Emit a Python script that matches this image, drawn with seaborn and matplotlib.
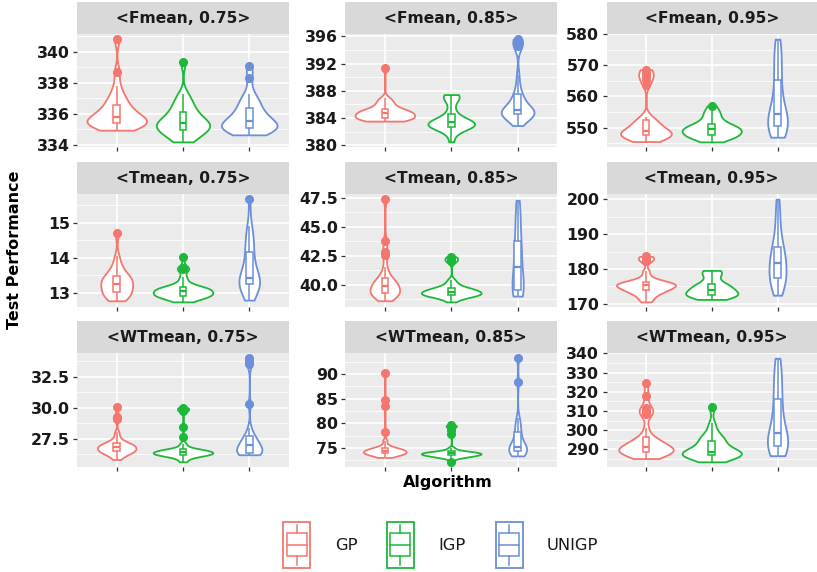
import numpy as np
import pandas as pd
import matplotlib
matplotlib.use("Agg")
import matplotlib.pyplot as plt
from matplotlib.ticker import MultipleLocator, FormatStrFormatter
from matplotlib.patches import Rectangle
import seaborn as sns

plt.rcParams["font.family"] = ["DejaVu Sans"]

algorithms = ["GP", "IGP", "UNIGP"]
colors = ["#F4766E", "#1DB83A", "#6B8FD8"]

# ---- test performance of each run, per scenario and algorithm ----
fmean_075_gp = [334.95, 335.1, 335.2, 335.25, 335.3, 335.35, 335.4, 335.45, 335.5, 335.55, 335.6, 335.7, 335.79,
                335.9, 336.0, 336.1, 336.25, 336.4, 336.58, 336.8, 337.0, 337.3, 337.8, 338.7, 340.8]
fmean_075_igp = [334.2, 334.35, 334.5, 334.65, 334.8, 334.9, 334.99, 335.1, 335.15, 335.2, 335.25, 335.3, 335.42,
                 335.5, 335.6, 335.7, 335.8, 335.95, 336.15, 336.3, 336.5, 336.7, 337.0, 337.3, 339.35]
fmean_075_unigp = [334.65, 334.8, 334.9, 334.95, 335.0, 335.05, 335.1, 335.15, 335.2, 335.3, 335.35, 335.45, 335.53,
                   335.6, 335.75, 335.9, 336.0, 336.2, 336.37, 336.55, 336.8, 337.0, 337.3, 338.3, 339.1]

fmean_085_gp = [383.55, 383.65, 383.75, 383.82, 383.88, 383.93, 383.98, 384.15, 384.28, 384.4, 384.5, 384.6, 384.68,
                384.78, 384.88, 384.98, 385.08, 385.18, 385.3, 385.55, 385.85, 386.2, 386.55, 386.9, 391.4]
fmean_085_igp = [380.5, 381.6, 382.2, 382.5, 382.62, 382.7, 382.75, 382.85, 382.95, 383.05, 383.15, 383.25, 383.4,
                 383.5, 383.6, 383.7, 383.85, 384.1, 384.65, 385.3, 386.3, 386.9, 387.2, 387.3, 387.45]
fmean_085_unigp = [382.9, 383.6, 384.05, 384.25, 384.4, 384.5, 384.55, 384.6, 384.67, 384.73, 384.8, 384.86, 384.92,
                   385.0, 385.15, 385.35, 385.6, 385.95, 386.35, 386.8, 387.2, 387.6, 388.6, 390.3, 394.6, 394.9,
                   395.1, 395.3, 395.6]

fmean_095_gp = [545.5, 546.0, 546.4, 546.7, 547.0, 547.2, 547.4, 547.6, 547.8, 548.0, 548.2, 548.4, 548.6, 548.8,
                549.0, 549.5, 550.0, 550.6, 551.2, 551.7, 552.2, 552.4, 553.5, 563.8, 565.2, 566.3, 567.2,
                568.0, 568.6]
fmean_095_igp = [545.4, 546.0, 546.5, 546.9, 547.2, 547.4, 547.6, 547.9, 548.3, 548.6, 548.9, 549.2, 549.4,
                 549.6, 549.8, 550.1, 550.4, 550.8, 551.2, 551.8, 552.6, 553.6, 554.6, 555.4, 557.0]
fmean_095_unigp = [546.9, 547.8, 548.5, 549.2, 549.7, 550.2, 550.6, 551.2, 551.8, 552.4, 553.0, 553.6, 554.2,
                   555.5, 557.0, 558.8, 560.6, 562.9, 565.2, 567.5, 569.8, 572.0, 574.2, 576.3, 578.4]

tmean_075_gp = [12.78, 12.82, 12.87, 12.92, 12.96, 12.99, 13.02, 13.07, 13.12, 13.16, 13.2, 13.24, 13.27,
                13.31, 13.35, 13.39, 13.42, 13.45, 13.48, 13.55, 13.62, 13.72, 13.84, 14.05, 14.7]
tmean_075_igp = [12.75, 12.8, 12.84, 12.87, 12.9, 12.92, 12.93, 12.95, 12.97, 12.99, 13.01, 13.03, 13.06,
                 13.08, 13.1, 13.12, 13.14, 13.15, 13.17, 13.22, 13.3, 13.45, 13.67, 13.72, 14.03]
tmean_075_unigp = [12.8, 12.95, 13.05, 13.12, 13.18, 13.22, 13.25, 13.28, 13.31, 13.34, 13.37, 13.4, 13.44,
                   13.52, 13.62, 13.75, 13.9, 14.03, 14.17, 14.3, 14.45, 14.6, 14.75, 14.9, 15.67]

tmean_085_gp = [38.6, 38.8, 38.95, 39.05, 39.15, 39.2, 39.25, 39.35, 39.45, 39.55, 39.65, 39.75, 39.9,
                40.0, 40.1, 40.2, 40.3, 40.45, 40.56, 41.0, 41.5, 42.6, 42.8, 43.8, 47.4]
tmean_085_igp = [38.5, 38.8, 38.9, 39.0, 39.05, 39.08, 39.1, 39.15, 39.2, 39.25, 39.3, 39.35, 39.39,
                 39.45, 39.5, 39.55, 39.6, 39.67, 39.74, 39.9, 40.1, 40.4, 42.0, 42.2, 42.4]
tmean_085_unigp = [39.0, 39.1, 39.2, 39.3, 39.4, 39.5, 39.55, 39.8, 40.1, 40.5, 40.8, 41.2, 41.5,
                   41.9, 42.3, 42.7, 43.1, 43.5, 43.8, 44.4, 45.0, 45.6, 46.2, 46.8, 47.3]

tmean_095_gp = [170.6, 171.5, 172.3, 172.9, 173.3, 173.6, 173.9, 174.2, 174.5, 174.7, 174.9, 175.1, 175.3,
                175.5, 175.7, 175.85, 176.0, 176.15, 176.3, 176.8, 177.6, 179.3, 182.4, 183.0, 183.6]
tmean_095_igp = [171.3, 171.7, 172.0, 172.2, 172.4, 172.5, 172.6, 172.8, 173.0, 173.2, 173.5, 173.8, 174.1,
                 174.4, 174.7, 175.0, 175.3, 175.5, 175.7, 176.5, 177.5, 178.6, 179.1, 179.4, 179.6]
tmean_095_unigp = [172.5, 173.5, 174.5, 175.4, 176.2, 176.8, 177.3, 178.0, 178.8, 179.6, 180.3, 181.0, 181.7,
                   182.4, 183.1, 183.9, 184.8, 185.6, 186.4, 187.8, 189.5, 191.6, 194.0, 197.0, 200.0]

wtmean_075_gp = [25.82, 26.05, 26.2, 26.3, 26.38, 26.43, 26.48, 26.53, 26.58, 26.63, 26.7, 26.76, 26.83,
                 26.88, 26.93, 26.98, 27.03, 27.09, 27.15, 27.3, 27.55, 28.0, 29.1, 29.25, 30.05]
wtmean_075_igp = [25.63, 25.85, 26.0, 26.08, 26.13, 26.17, 26.2, 26.22, 26.25, 26.28, 26.31, 26.34, 26.37,
                  26.4, 26.43, 26.46, 26.5, 26.53, 26.56, 26.6, 26.63, 26.67, 26.85, 27.1, 27.63, 28.43,
                  29.7, 29.9, 30.0]
wtmean_075_unigp = [26.2, 26.25, 26.28, 26.31, 26.33, 26.35, 26.37, 26.45, 26.55, 26.65, 26.75, 26.85, 26.96,
                    27.05, 27.15, 27.28, 27.4, 27.55, 27.68, 27.85, 28.4, 30.3, 33.5, 33.8, 34.0]

wtmean_085_gp = [73.1, 73.4, 73.55, 73.65, 73.75, 73.82, 73.9, 74.0, 74.1, 74.2, 74.28, 74.36, 74.45,
                 74.55, 74.65, 74.75, 74.85, 74.95, 75.1, 75.5, 76.5, 78.3, 83.6, 84.8, 90.1]
wtmean_085_igp = [72.2, 72.9, 73.1, 73.25, 73.35, 73.45, 73.5, 73.58, 73.65, 73.72, 73.78, 73.84, 73.9,
                  73.96, 74.02, 74.1, 74.17, 74.24, 74.3, 74.5, 75.0, 77.8, 78.6, 79.3, 79.6]
wtmean_085_unigp = [73.4, 73.8, 74.0, 74.15, 74.25, 74.35, 74.45, 74.55, 74.65, 74.75, 74.9, 75.05, 75.2,
                    75.5, 75.9, 76.4, 77.0, 77.6, 78.2, 78.9, 79.6, 80.3, 81.0, 88.4, 93.2]

wtmean_095_gp = [285.2, 286.0, 286.7, 287.3, 287.8, 288.2, 288.5, 288.8, 289.2, 289.6, 290.0, 290.3, 290.6,
                 290.9, 291.1, 291.7, 292.4, 293.2, 294.0, 294.9, 295.7, 296.4, 301.0, 308.2, 309.3, 310.5,
                 311.8, 317.8, 324.6]
wtmean_095_igp = [283.5, 284.6, 285.4, 285.9, 286.4, 286.8, 287.2, 287.5, 287.8, 288.0, 288.2, 288.5, 288.8,
                  289.5, 290.3, 291.2, 292.3, 293.4, 294.4, 295.5, 296.4, 297.2, 300.0, 303.5, 311.9]
wtmean_095_unigp = [286.7, 288.0, 289.2, 290.2, 290.9, 291.4, 291.9, 292.9, 294.0, 295.2, 296.4, 297.5, 298.6,
                    301.0, 303.8, 306.8, 309.9, 313.0, 316.1, 319.5, 323.0, 326.6, 330.2, 333.9, 337.5]

panel_titles = ["<Fmean, 0.75>", "<Fmean, 0.85>", "<Fmean, 0.95>",
                "<Tmean, 0.75>", "<Tmean, 0.85>", "<Tmean, 0.95>",
                "<WTmean, 0.75>", "<WTmean, 0.85>", "<WTmean, 0.95>"]
panel_data = [
    (fmean_075_gp, fmean_075_igp, fmean_075_unigp),
    (fmean_085_gp, fmean_085_igp, fmean_085_unigp),
    (fmean_095_gp, fmean_095_igp, fmean_095_unigp),
    (tmean_075_gp, tmean_075_igp, tmean_075_unigp),
    (tmean_085_gp, tmean_085_igp, tmean_085_unigp),
    (tmean_095_gp, tmean_095_igp, tmean_095_unigp),
    (wtmean_075_gp, wtmean_075_igp, wtmean_075_unigp),
    (wtmean_085_gp, wtmean_085_igp, wtmean_085_unigp),
    (wtmean_095_gp, wtmean_095_igp, wtmean_095_unigp),
]
tick_steps = [2, 4, 10, 1, 2.5, 10, 2.5, 5, 10]

palette = dict(zip(algorithms, colors))

W, H = 817, 572
fig = plt.figure(figsize=(W / 100, H / 100), dpi=100)


def box_px(x0, y0, x1, y1):
    return [x0 / W, 1 - y1 / H, (x1 - x0) / W, (y1 - y0) / H]


col_px = [(77, 289), (345, 557.5), (606.5, 817)]
row_panel_px = [(34, 147), (194, 307), (353, 467)]
row_strip_px = [(2, 34), (162, 194), (321, 353)]


def nrd0(kde):
    # Silverman's rule of thumb, expressed as a factor of the sample sd
    x = np.asarray(kde.dataset).ravel()
    sd = x.std(ddof=1)
    q25, q75 = np.percentile(x, [25, 75])
    spread = min(sd, (q75 - q25) / 1.34)
    if spread <= 0:
        spread = sd
    return 0.9 * spread * len(x) ** -0.2 / sd


tick_color = "#333333"
label_color = "#1A1A1A"

for i, (title, groups, step) in enumerate(zip(panel_titles, panel_data, tick_steps)):
    r, c = divmod(i, 3)
    x0, x1 = col_px[c]
    y0, y1 = row_panel_px[r]
    ax = fig.add_axes(box_px(x0, y0, x1, y1))
    df = pd.DataFrame({
        "Algorithm": np.repeat(algorithms, [len(g) for g in groups]),
        "value": np.concatenate([np.asarray(g, float) for g in groups]),
    })

    n_coll = len(ax.collections)
    sns.violinplot(data=df, x="Algorithm", y="value", hue="Algorithm", order=algorithms,
                   hue_order=algorithms, palette=palette, dodge=False, inner=None, cut=0,
                   width=0.9, density_norm="area", common_norm=True, bw_method=nrd0,
                   linewidth=1.3, legend=False, ax=ax)
    for coll, col in zip(ax.collections[n_coll:], colors):
        coll.set_facecolor("white")
        coll.set_edgecolor(col)
        coll.set_linewidth(1.3)

    for alg, col in zip(algorithms, colors):
        sub = df[df["Algorithm"] == alg]
        n_lines, n_patches = len(ax.lines), len(ax.patches)
        sns.boxplot(data=sub, x="Algorithm", y="value", order=algorithms, color="white",
                    linecolor=col, width=0.1, linewidth=1.1, showcaps=False, fliersize=5.5,
                    flierprops=dict(marker="o"), medianprops=dict(linewidth=1.6), ax=ax)
        for ln in ax.lines[n_lines:]:
            ln.set_color(col)
            if ln.get_marker() not in (None, "None", ""):
                ln.set_markerfacecolor(col)
                ln.set_markeredgecolor(col)
                ln.set_markersize(5.5)
        for p in ax.patches[n_patches:]:
            p.set_facecolor("white")
            p.set_edgecolor(col)

    ax.set_xlim(-0.6, 2.6)
    ax.margins(y=0.05)
    ax.autoscale_view(scalex=False)
    ax.set_facecolor("#EBEBEB")
    for s in ax.spines.values():
        s.set_visible(False)
    ax.set_axisbelow(True)
    ax.yaxis.set_major_locator(MultipleLocator(step))
    ax.yaxis.set_minor_locator(MultipleLocator(step / 2))
    ax.yaxis.set_major_formatter(FormatStrFormatter("%.1f" if step == 2.5 else "%d"))
    ax.set_xticks([0, 1, 2])
    ax.set_xticklabels([])
    ax.grid(which="major", color="white", linewidth=1.2)
    ax.grid(which="minor", axis="y", color="white", linewidth=0.6)
    ax.tick_params(axis="both", which="major", length=3.2, width=0.9, color=tick_color,
                   labelsize=11.3, labelcolor=label_color, pad=2)
    ax.tick_params(axis="both", which="minor", length=0)
    for lab in ax.get_yticklabels():
        lab.set_fontweight("bold")
    ax.set_xlabel("")
    ax.set_ylabel("")

    sy0, sy1 = row_strip_px[r]
    sax = fig.add_axes(box_px(x0, sy0, x1, sy1))
    sax.set_facecolor("#D9D9D9")
    sax.set_xticks([])
    sax.set_yticks([])
    for s in sax.spines.values():
        s.set_visible(False)
    sax.text(0.5, 0.48, title, ha="center", va="center", fontsize=11.2, fontweight="bold",
             color=label_color, transform=sax.transAxes)

fig.text(15 / W, 1 - 250 / H, "Test Performance", rotation=90, ha="center", va="center",
         fontsize=11.5, fontweight="bold", color="black")
fig.text(448 / W, 1 - 483 / H, "Algorithm", ha="center", va="center",
         fontsize=11.5, fontweight="bold", color="black")

# legend: boxplot key glyphs drawn in a pixel-space overlay
lax = fig.add_axes([0, 0, 1, 1])
lax.set_xlim(0, W)
lax.set_ylim(H, 0)
lax.axis("off")
lax.patch.set_alpha(0)
key_x = [283.5, 387, 496]
label_x = [335, 438.5, 547]
for kx, lx, alg, col in zip(key_x, label_x, algorithms, colors):
    kw, cx = 27, kx + 13.5
    lax.add_patch(Rectangle((kx, 522), kw, 46, facecolor="white", edgecolor=col, linewidth=1.3))
    lax.add_patch(Rectangle((kx + 3.5, 533), kw - 7, 23, facecolor="white", edgecolor=col, linewidth=1.1))
    lax.plot([kx + 3.5, kx + kw - 3.5], [544.5, 544.5], color=col, linewidth=1.1)
    lax.plot([cx, cx], [525, 533], color=col, linewidth=1.1)
    lax.plot([cx, cx], [556, 564.5], color=col, linewidth=1.1)
    lax.text(lx, 545, alg, ha="left", va="center", fontsize=11.8, color=label_color)

fig.savefig("out.png", dpi=100)
